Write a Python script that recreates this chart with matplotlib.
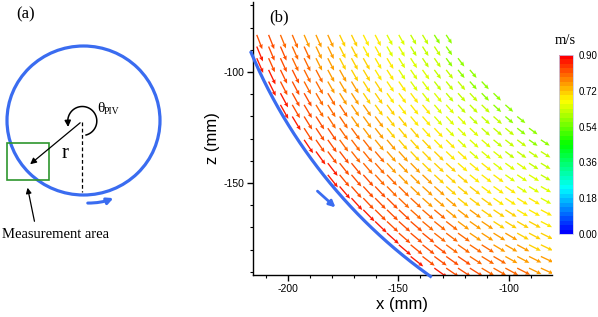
import numpy as np
import matplotlib
matplotlib.use("Agg")
import matplotlib.pyplot as plt
from matplotlib.patches import Ellipse, Rectangle
from matplotlib.colors import LinearSegmentedColormap, Normalize
from matplotlib.cm import ScalarMappable

plt.rcParams['axes.unicode_minus'] = False
plt.rcParams['font.family'] = ['Liberation Sans', 'DejaVu Sans']

# PIV grid (mm) and speed, banded by distance from the tank centre
grid_x = np.arange(-214.0, -84.0, 5.35)
grid_z = np.arange(-83.3, -190.0, -5.25)
band_radius = [145, 155, 165, 175, 185, 195, 205, 215, 225, 235]
band_speed = [0.54, 0.57, 0.61, 0.64, 0.68, 0.72, 0.75, 0.79, 0.83, 0.87]
wall_radius = 235.0
cbar_ticks = [0.00, 0.18, 0.36, 0.54, 0.72, 0.90]

blue = '#3a6cf0'
W, H = 598, 317
fig = plt.figure(figsize=(W / 100, H / 100), dpi=100)

# ---------------- panel (a): sketch in pixel units ----------------
ax_a = fig.add_axes([0, 0, 200 / W, 1])
ax_a.set_xlim(0, 200)
ax_a.set_ylim(H, 0)
ax_a.axis('off')

cx, cy = 82.3, 121.0
ax_a.add_patch(Ellipse((83.5, 120.5), 153, 149, fill=False, ec=blue, lw=2.3))
ax_a.plot([cx, cx], [122, 192], color='k', lw=0.9, ls=(0, (3, 2)))
ax_a.add_patch(Rectangle((7, 143), 42, 37, fill=False, ec='#2e962e', lw=1.2))

ax_a.annotate('', xy=(28, 166), xytext=(cx, cy),
              arrowprops=dict(arrowstyle='-|>', color='k', lw=0.9, mutation_scale=9))
t = np.radians(np.linspace(-75, 192, 80))
arc_x = cx + 14.5 * np.cos(t)
arc_y = cy - 14.5 * np.sin(t)
ax_a.plot(arc_x[:-3], arc_y[:-3], color='k', lw=1.1)
ax_a.annotate('', xy=(arc_x[-1], arc_y[-1] + 3), xytext=(arc_x[-4], arc_y[-4]),
              arrowprops=dict(arrowstyle='-|>', color='k', lw=1.1, mutation_scale=9))

ax_a.annotate('', xy=(27, 185), xytext=(35, 224),
              arrowprops=dict(arrowstyle='-|>', color='k', lw=0.9, mutation_scale=8))
ax_a.annotate('', xy=(116, 197), xytext=(85, 203),
              arrowprops=dict(arrowstyle='-|>', color=blue, lw=2.2, mutation_scale=9,
                              connectionstyle='arc3,rad=0.12'))

serif = ['Liberation Serif', 'DejaVu Serif']
ax_a.text(16, 14, '(a)', family=serif, fontsize=12, va='center', ha='left')
ax_a.text(97, 109, 'θ', family=serif, fontsize=11, va='center', ha='left')
ax_a.text(104, 112, 'PIV', family=serif, fontsize=7, va='center', ha='left')
ax_a.text(65, 154, 'r', family=serif, fontsize=15, va='center', ha='center')
ax_a.text(2, 235, 'Measurement area', family=serif, fontsize=10.5, va='center', ha='left')

# ---------------- panel (b): velocity field ----------------
ax = fig.add_axes([253 / W, 1 - 275 / H, 298.7 / W, 273 / H])
ax.set_xlim(-215.7, -80.7)
ax.set_ylim(-191.4, -68.5)

X, Z = np.meshgrid(grid_x, grid_z)
R = np.hypot(X, Z)
keep = (R <= wall_radius - 1) & (X + np.minimum(Z, -88.0) <= -214.5)
idx = np.clip(np.searchsorted(band_radius, R[keep] - 5), 0, len(band_speed) - 1)
speed = np.array(band_speed)[idx]
U = -Z[keep] / R[keep] * speed
V = X[keep] / R[keep] * speed

cmap = LinearSegmentedColormap.from_list(
    'tec', ['#0000ff', '#00ffff', '#00ff00', '#ffff00', '#ff0000'], N=40)
norm = Normalize(0, 0.9)
ax.quiver(X[keep], Z[keep], U, V, speed, cmap=cmap, norm=norm, pivot='tail',
          angles='xy', scale_units='xy', scale=0.12, width=0.0045,
          headwidth=3.2, headlength=3.6, headaxislength=3.2, zorder=2)

ang = np.linspace(np.arctan2(-90.9, -215.7), np.arctan2(-192.0, -135.5), 200)
ax.plot(wall_radius * np.cos(ang), wall_radius * np.sin(ang), color=blue, lw=2.3,
        zorder=3, clip_on=False)
ax.annotate('', xy=(-177.5, -161.8), xytext=(-187.5, -152.8),
            arrowprops=dict(arrowstyle='-|>', color=blue, lw=2.0, mutation_scale=9))

for s in ['top', 'right']:
    ax.spines[s].set_visible(False)
for s in ['left', 'bottom']:
    ax.spines[s].set_linewidth(1.0)
ax.set_xticks([-200, -150, -100])
ax.set_yticks([-100, -150])
ax.set_xticks(np.arange(-210, -80, 10), minor=True)
ax.set_yticks(np.arange(-190, -68, 10), minor=True)
ax.tick_params(which='major', direction='out', length=4.5, width=1.0, labelsize=7.5, pad=2)
ax.tick_params(which='minor', direction='out', length=2.5, width=0.8)
ax.set_xlabel('x (mm)', fontsize=12, labelpad=2)
ax.set_ylabel('z (mm)', fontsize=12, labelpad=2)
fig.text(269 / W, 1 - 17 / H, '(b)', family=serif, fontsize=12, va='center', ha='left')

# colour bar
cax = fig.add_axes([558.7 / W, 1 - 234 / H, 14 / W, 179 / H])
cb = fig.colorbar(ScalarMappable(norm=norm, cmap=cmap), cax=cax, ticks=cbar_ticks)
cb.ax.set_yticklabels(['%.2f' % v for v in cbar_ticks])
cb.ax.tick_params(length=0, labelsize=7, pad=4)
cb.outline.set_edgecolor('#c8c8e8')
cb.outline.set_linewidth(0.6)
fig.text(565 / W, 1 - 40 / H, 'm/s', family=serif, fontsize=10.5, va='center', ha='center')

fig.savefig('out.png', dpi=100)
